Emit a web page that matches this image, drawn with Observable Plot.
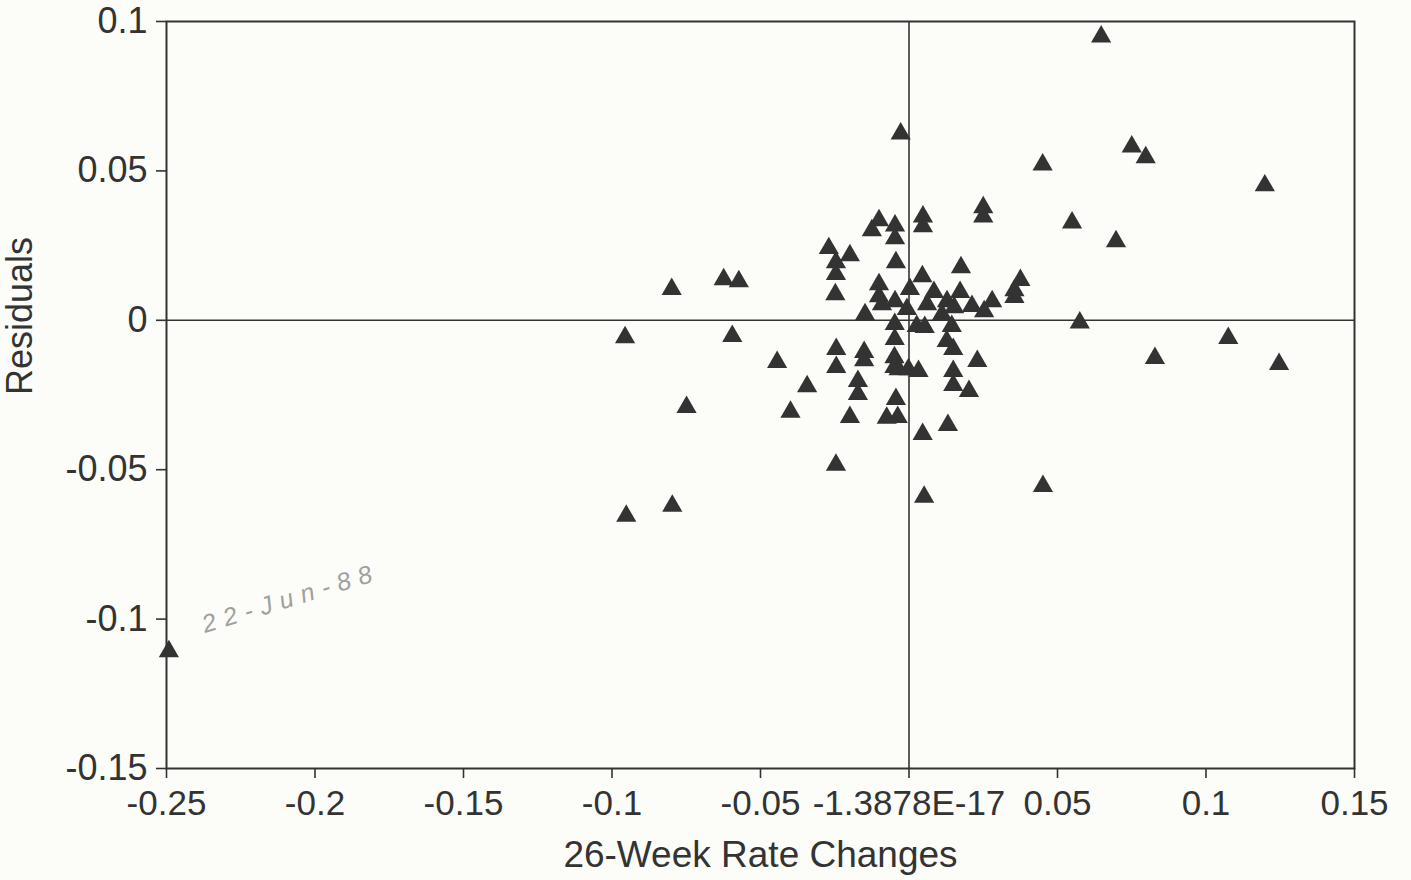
<!DOCTYPE html>
<html>
<head>
<meta charset="utf-8">
<script src="https://cdn.jsdelivr.net/npm/d3@7"></script>
<script src="https://cdn.jsdelivr.net/npm/@observablehq/plot@0.6"></script>
<style>
  html, body { margin: 0; padding: 0; background: #fcfcf8; }
  #chart svg { display: block; }
</style>
</head>
<body>
<div id="chart"></div>
<script>
// 26-week rate changes (x) and residuals (y)
const rateChange = [
  0.0647, -0.0028, 0.0450, 0.0750, 0.0797, 0.1198, 0.0549, 0.0697, 0.0250, 0.0250,
  0.0047, 0.0047, -0.0101, -0.0125, -0.0047, -0.0047, -0.0270, -0.0199, -0.0246, -0.0246,
  -0.0248, -0.0044, 0.0175, -0.0799, -0.0624, -0.0573, -0.0956, -0.0595, -0.0749, -0.0444,
  -0.0343, -0.0399, -0.0245, -0.0245, -0.0151, -0.0151, -0.0172, -0.0172, -0.0199, -0.0044,
  -0.0075, -0.0038, -0.0246, -0.0952, -0.0797, 0.0051, 0.0451, 0.0046, 0.0131, 0.0149,
  0.0202, 0.0149, 0.0230, 0.0127, 0.0149, -0.0049, -0.0049, -0.0002, 0.0032, -0.0035,
  -0.0048, -0.0048, 0.0026, 0.0053, 0.0144, 0.0575, 0.1075, 0.0828, 0.1246, 0.0375,
  0.0355, 0.0355, -0.0101, -0.0101, 0.0045, 0.0003, -0.0047, 0.0084, 0.0172, 0.0280,
  -0.0148, 0.0253, 0.0128, 0.0212, 0.0152, -0.2492, -0.0091, -0.0007, 0.0061, 0.0111
];
const residual = [
  0.0949, 0.0625, 0.0521, 0.0581, 0.0545, 0.0451, 0.0327, 0.0264, 0.0378, 0.0347,
  0.0347, 0.0314, 0.0334, 0.0301, 0.0317, 0.0274, 0.0241, 0.0217, 0.0194, 0.0154,
  0.0087, 0.0194, 0.0177, 0.0104, 0.0137, 0.0130, -0.0057, -0.0053, -0.0291, -0.0140,
  -0.0221, -0.0307, -0.0097, -0.0157, -0.0107, -0.0134, -0.0204, -0.0247, -0.0324, -0.0264,
  -0.0327, -0.0324, -0.0484, -0.0655, -0.0621, -0.0591, -0.0555, -0.0381, -0.0351, -0.0217,
  -0.0237, -0.0170, -0.0137, -0.0070, -0.0097, -0.0124, -0.0157, -0.0164, -0.0170, -0.0164,
  -0.0063, -0.0013, -0.0020, -0.0023, -0.0020, -0.0008, -0.0060, -0.0127, -0.0147, 0.0134,
  0.0100, 0.0077, 0.0120, 0.0080, 0.0147, 0.0104, 0.0063, 0.0094, 0.0094, 0.0063,
  0.0020, 0.0030, 0.0063, 0.0047, 0.0043, -0.1108, 0.0053, 0.0037, 0.0053, 0.0020
];

const xTickValues = [-0.25, -0.2, -0.15, -0.1, -0.05, 0, 0.05, 0.1, 0.15];
const xTickLabels = ["-0.25", "-0.2", "-0.15", "-0.1", "-0.05", "-1.3878E-17", "0.05", "0.1", "0.15"];
const yTickValues = [-0.15, -0.1, -0.05, 0, 0.05, 0.1];
const yTickLabels = ["-0.15", "-0.1", "-0.05", "0", "0.05", "0.1"];

const xTitle = "26-Week Rate Changes";
const yTitle = "Residuals";
const noteText = "22-Jun-88";
const noteIndex = 85;

const points = rateChange.map((x, i) => ({x, y: residual[i]}));
const lookup = (vals, labels) => d => labels[vals.findIndex(v => Math.abs(v - d) < 1e-9)];

const ink = "#333";
const chart = Plot.plot({
  width: 1411,
  height: 880,
  marginLeft: 166,
  marginRight: 57,
  marginTop: 21,
  marginBottom: 112,
  style: {background: "transparent", fontFamily: "'Liberation Sans', Arial, sans-serif", color: ink},
  x: {domain: [-0.25, 0.15]},
  y: {domain: [-0.15, 0.1]},
  marks: [
    Plot.ruleY([0], {stroke: ink, strokeWidth: 1.6}),
    Plot.ruleX([0], {stroke: ink, strokeWidth: 1.6}),
    Plot.frame({stroke: ink, strokeWidth: 2}),
    Plot.axisX({ticks: xTickValues, tickFormat: lookup(xTickValues, xTickLabels), tickSize: 10, tickPadding: 12,
      fontSize: 35, label: null, stroke: ink, strokeWidth: 1.6, fill: ink}),
    Plot.axisY({ticks: yTickValues, tickFormat: lookup(yTickValues, yTickLabels), tickSize: 10, tickPadding: 9,
      fontSize: 36, label: null, stroke: ink, strokeWidth: 1.6, fill: ink}),
    Plot.text([xTitle], {frameAnchor: "bottom", dy: 87, lineAnchor: "middle", fontSize: 37, fill: ink}),
    Plot.text([yTitle], {frameAnchor: "left", dx: -146, rotate: -90, lineAnchor: "middle", fontSize: 36, fill: ink}),
    Plot.dot(points, {x: "x", y: "y", symbol: "triangle", r: 7.5, fill: ink, stroke: "none"}),
    Plot.text([points[noteIndex]], {x: "x", y: "y", text: () => noteText, dx: 122, dy: -53, rotate: -17,
      fontSize: 25, fontStyle: "italic", fill: "#a0a0a0", className: "note"})
  ]
});
chart.querySelectorAll(".note text").forEach(t => t.setAttribute("letter-spacing", "8"));
document.getElementById("chart").appendChild(chart);
</script>
</body>
</html>
